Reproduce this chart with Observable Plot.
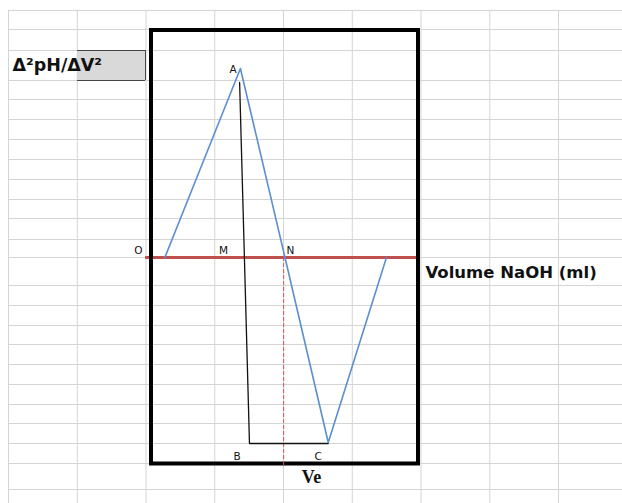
<!DOCTYPE html>
<html>
<head>
<meta charset="utf-8">
<script src="https://cdn.jsdelivr.net/npm/d3@7"></script>
<script src="https://cdn.jsdelivr.net/npm/@observablehq/plot@0.6"></script>
<style>
  html, body { margin: 0; padding: 0; background: #fff; }
  #chart svg { display: block; }
</style>
</head>
<body>
<div id="chart"></div>
<script>
// ---- Data (volume in ml, second derivative in arbitrary units) ----
const curveVolume = [0.5, 3.33, 5.0, 6.62, 8.8];
const curveD2 = [0, 9.45, 0, -9.25, 0];

const constructVolume = [3.3, 3.67, 6.62];
const constructD2 = [8.75, -9.3, -9.3];

const equivalenceVolume = 4.95;
const equivalenceLow = -10.4;

const axisFrom = -0.22;
const axisTo = 9.93;

const pointNames = ["A", "O", "M", "N", "B", "C"];
const pointLabelX = [3.06, -0.49, 2.7, 5.2, 3.21, 6.24];
const pointLabelY = [9.4, 0.35, 0.35, 0.35, -9.95, -9.95];

const yTitle = "Δ²pH/ΔV²";
const xTitle = "Volume NaOH (ml)";
const veLabel = "Ve";

// ---- Layout: page pixels <-> data units ----
const W = 622, H = 503;
const xs = d3.scaleLinear().domain([0, 10]).range([151, 418]);
const ys = d3.scaleLinear().domain([0, 10]).range([257, 57]);

// spreadsheet background grid (pixel positions of cell borders)
const colLines = d3.range(9).map(k => 8 + 68.75 * k);
const rowLines = [10, 29, 50, 80, 99, 119, 139, 159, 179, 199, 218, 239, 257,
                  285, 305, 325, 344, 364, 384, 404, 423, 443, 463, 489];
const gridX = colLines.map(p => xs.invert(p));
const gridY = rowLines.map(p => ys.invert(p));
const gridTop = ys.invert(10), gridBottom = ys.invert(H);
const gridLeft = xs.invert(8), gridRight = xs.invert(W);

const cell = {x1: xs.invert(77), x2: xs.invert(145), y1: ys.invert(50), y2: ys.invert(80)};
const frameBox = {x1: xs.invert(151), x2: xs.invert(418), y1: ys.invert(30), y2: ys.invert(463.5)};

const curve = curveVolume.map((v, i) => ({v, d: curveD2[i]}));
const construct = constructVolume.map((v, i) => ({v, d: constructD2[i]}));
const labels = pointNames.map((name, i) => ({name, v: pointLabelX[i], d: pointLabelY[i]}));

const chart = Plot.plot({
  width: W,
  height: H,
  margin: 0,
  x: {domain: [xs.invert(0), xs.invert(W)], range: [0, W], axis: null},
  y: {domain: [ys.invert(H), ys.invert(0)], range: [H, 0], axis: null},
  style: {background: "#fff"},
  marks: [
    // spreadsheet grid
    Plot.ruleX(gridX, {x: d => d, y1: gridTop, y2: gridBottom, stroke: "#d4d4d4", strokeWidth: 1}),
    Plot.ruleY(gridY, {y: d => d, x1: gridLeft, x2: gridRight, stroke: "#d4d4d4", strokeWidth: 1}),
    // shaded header cell
    Plot.rect([cell], {x1: "x1", x2: "x2", y1: "y1", y2: "y2", fill: "#d9d9d9"}),
    Plot.ruleY([cell.y1, cell.y2], {y: d => d, x1: cell.x1, x2: cell.x2, stroke: "#444", strokeWidth: 1}),
    Plot.ruleX([cell.x2], {x: d => d, y1: cell.y1, y2: cell.y2, stroke: "#444", strokeWidth: 1}),
    // horizontal axis (red)
    Plot.ruleY([0], {x1: axisFrom, x2: axisTo, stroke: "#c0504d", strokeWidth: 3}),
    // frame
    Plot.rect([frameBox], {x1: "x1", x2: "x2", y1: "y1", y2: "y2", fill: "none", stroke: "#000", strokeWidth: 4}),
    // equivalence dashed line
    Plot.ruleX([equivalenceVolume], {x: d => d, y1: 0, y2: equivalenceLow, stroke: "#e05050", strokeWidth: 1, strokeDasharray: "4,2"}),
    // construction line A -> B -> C
    Plot.line(construct, {x: "v", y: "d", stroke: "#111", strokeWidth: 1.3}),
    // second derivative curve
    Plot.line(curve, {x: "v", y: "d", stroke: "#5b8fd0", strokeWidth: 1.6}),
    // point labels
    Plot.text(labels, {x: "v", y: "d", text: "name", fontSize: 10.5, fontFamily: "DejaVu Sans", fill: "#111"}),
    // titles
    Plot.text([yTitle], {x: xs.invert(12), y: ys.invert(65), text: d => d, textAnchor: "start", fontSize: 17.5, fontWeight: "bold", fontFamily: "DejaVu Sans", fill: "#111"}),
    Plot.text([xTitle], {x: xs.invert(425), y: ys.invert(272), text: d => d, textAnchor: "start", fontSize: 16.5, fontWeight: "bold", fontFamily: "DejaVu Sans", fill: "#111"}),
    Plot.text([veLabel], {x: xs.invert(311), y: ys.invert(477), text: d => d, fontSize: 18, fontWeight: "bold", fontFamily: "Liberation Serif", fill: "#111"})
  ]
});

document.getElementById("chart").appendChild(chart);
</script>
</body>
</html>
